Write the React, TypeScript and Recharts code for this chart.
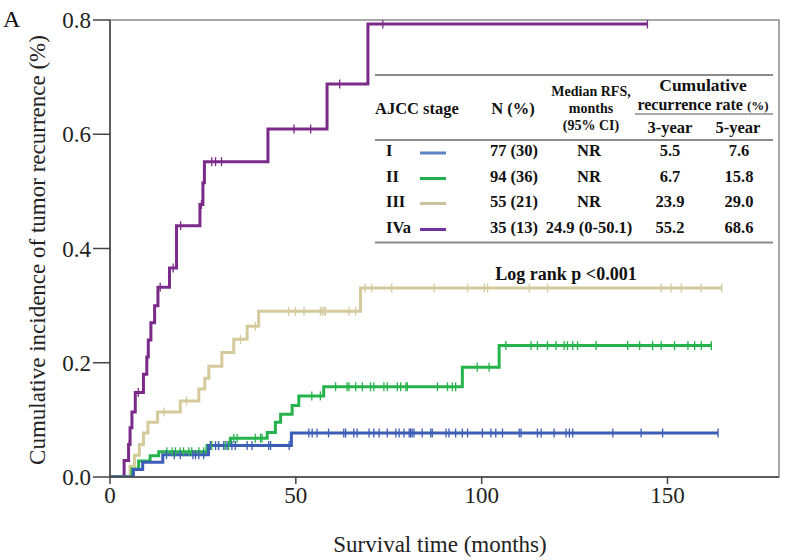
import React from 'react';
import { ComposedChart, Line, XAxis, YAxis, ReferenceArea } from 'recharts';

const xTicks = [0, 50, 100, 150];
const yTicks = [0, 0.2, 0.4, 0.6, 0.8];

const stageNames = ['I', 'II', 'III', 'IVa'];
const lineColors = ['#3c5db6', '#27b34c', '#d4ca9c', '#7c2a8a'];
const legendColors = ['#5a84c2', '#22b04f', '#cbc1a0', '#7030a0'];
const nValues = ['77 (30)', '94 (36)', '55 (21)', '35 (13)'];
const medianValues = ['NR', 'NR', 'NR', '24.9 (0-50.1)'];
const rate3Year = ['5.5', '6.7', '23.9', '55.2'];
const rate5Year = ['7.6', '15.8', '29.0', '68.6'];

// Stage I
const stage1StepTimes = [6.3, 8.8, 14.2, 26.5, 48.8];
const stage1StepValues = [0.013, 0.026, 0.039, 0.055, 0.077];
const stage1Censored = [15.2, 17.3, 18.9, 22.3, 23.0, 23.9, 25.2, 27.0, 28.4, 29.2, 30.6, 31.5, 32.8, 33.7, 36.9, 38.2, 42.7, 43.2, 48.2, 53.5, 54.4, 55.7, 58.8, 62.9, 63.4, 65.6, 66.5, 69.7, 71.0, 72.4, 74.6, 76.9, 77.8, 79.1, 80.5, 80.9, 81.3, 81.8, 84.0, 86.3, 86.7, 90.4, 91.2, 93.0, 94.8, 96.2, 100.2, 102.5, 103.8, 105.6, 110.1, 110.6, 115.0, 116.0, 119.5, 122.7, 123.6, 124.5, 135.3, 142.9, 148.7, 163.6];

// Stage II
const stage2StepTimes = [5.9, 7.7, 10.8, 13.1, 26.1, 32.4, 42.3, 44.5, 45.9, 49.0, 50.8, 57.5, 94.8, 104.7];
const stage2StepValues = [0.014, 0.028, 0.037, 0.044, 0.055, 0.068, 0.078, 0.096, 0.11, 0.125, 0.142, 0.158, 0.192, 0.23];
const stage2Censored = [15.3, 16.7, 17.6, 18.9, 19.8, 21.2, 22.0, 23.9, 25.2, 27.4, 29.2, 31.0, 31.9, 33.3, 34.2, 39.1, 40.5, 40.9, 54.3, 56.6, 60.7, 63.8, 64.3, 66.1, 67.9, 70.1, 71.0, 73.7, 74.6, 77.3, 78.2, 79.6, 80.0, 88.1, 90.8, 92.1, 93.0, 98.8, 102.0, 106.5, 113.3, 115.0, 117.7, 120.0, 122.2, 123.1, 124.5, 125.8, 130.8, 139.3, 142.5, 146.0, 148.3, 151.9, 155.5, 157.3, 159.1, 161.8];

// Stage III
const stage3StepTimes = [5.4, 6.6, 7.9, 9.0, 10.2, 12.8, 18.9, 23.9, 25.5, 26.6, 30.1, 33.3, 36.9, 40.0, 67.4];
const stage3StepValues = [0.019, 0.038, 0.057, 0.077, 0.096, 0.114, 0.133, 0.154, 0.173, 0.194, 0.218, 0.241, 0.264, 0.29, 0.331];
const stage3Censored = [14.5, 20.6, 35.1, 39.1, 48.1, 49.9, 52.2, 56.6, 57.1, 57.6, 58.0, 64.3, 66.1, 68.6, 70.4, 75.8, 87.2, 96.2, 100.7, 101.6, 112.8, 117.7, 148.3, 151.0, 153.7, 159.0, 164.6];

// Stage IVa
const stage4StepTimes = [3.8, 5.0, 5.4, 5.9, 6.8, 9.0, 9.9, 10.3, 11.0, 12.0, 12.9, 16.0, 17.9, 24.2, 25.0, 25.4, 42.5, 58.4, 69.4];
const stage4StepValues = [0.029, 0.057, 0.086, 0.114, 0.148, 0.18, 0.21, 0.24, 0.27, 0.30, 0.332, 0.366, 0.44, 0.477, 0.515, 0.552, 0.609, 0.688, 0.793];
const stage4Censored = [5.2, 7.6, 10.1, 13.5, 17.0, 19.0, 24.6, 27.4, 28.4, 30.0, 49.5, 54.0, 61.8, 73.4, 144.6];

type Pt = { t: number; v: number; c: boolean };

function buildCurve(stepTimes: number[], stepValues: number[], censored: number[]): Pt[] {
  const pts: Pt[] = [{ t: 0, v: 0, c: false }];
  stepTimes.forEach((t, i) => pts.push({ t, v: stepValues[i], c: false }));
  censored.forEach((t) => {
    let v = 0;
    stepTimes.forEach((st, i) => {
      if (st <= t) v = stepValues[i];
    });
    pts.push({ t, v, c: true });
  });
  pts.sort((a, b) => a.t - b.t);
  return pts;
}

const curves = [
  buildCurve(stage1StepTimes, stage1StepValues, stage1Censored),
  buildCurve(stage2StepTimes, stage2StepValues, stage2Censored),
  buildCurve(stage3StepTimes, stage3StepValues, stage3Censored),
  buildCurve(stage4StepTimes, stage4StepValues, stage4Censored),
];

const makeCensorDot = (color: string) => (props: any) => {
  const { cx, cy, payload, index } = props;
  if (!payload || !payload.c || cx == null || cy == null) return <g key={`d${index}`} />;
  return (
    <line key={`d${index}`} x1={cx} x2={cx} y1={cy - 4.5} y2={cy + 4.5} stroke={color} strokeWidth={1.3} />
  );
};

const serif = '"Liberation Serif", "Times New Roman", serif';
const drawOrder = [2, 3, 1, 0];

const rowBaselines = [156, 181.5, 206.5, 232.5];

export default function App() {
  return (
    <div style={{ position: 'relative', width: 788, height: 560, background: '#fff' }}>
      <style>{`body{margin:0}`}</style>
      <ComposedChart width={788} height={560} margin={{ top: 20, right: 9, left: 0, bottom: 0 }}>
        <XAxis
          dataKey="t"
          type="number"
          domain={[0, 180]}
          ticks={xTicks}
          allowDataOverflow
          height={83}
          tickSize={7}
          tickMargin={3}
          stroke="#444"
          strokeWidth={1.5}
          tick={{ fill: '#222', fontSize: 23, fontFamily: serif }}
        />
        <YAxis
          type="number"
          domain={[0, 0.8]}
          ticks={yTicks}
          allowDataOverflow
          width={110}
          tickSize={17}
          tickMargin={2}
          stroke="#444"
          strokeWidth={1.5}
          tickFormatter={(v: number) => v.toFixed(1)}
          tick={{ fill: '#222', fontSize: 23, fontFamily: serif }}
        />
        <ReferenceArea x1={0} x2={180} y1={0} y2={0.8} fill="none" stroke="#8a8a8a" strokeWidth={1.5} ifOverflow="visible" />
        {drawOrder.map((i) => (
          <Line
            key={stageNames[i]}
            data={curves[i]}
            dataKey="v"
            type="stepAfter"
            stroke={lineColors[i]}
            strokeWidth={3}
            dot={makeCensorDot(lineColors[i])}
            activeDot={false}
            isAnimationActive={false}
          />
        ))}
      </ComposedChart>
      <svg
        width={788}
        height={560}
        style={{ position: 'absolute', left: 0, top: 0, pointerEvents: 'none' }}
        fontFamily={serif}
      >
        <text x={3} y={27} fontSize={24} fill="#111">A</text>
        <text x={440} y={552} fontSize={23} fill="#222" textAnchor="middle">Survival time (months)</text>
        <text transform="translate(45,250) rotate(-90)" fontSize={23} fill="#222" textAnchor="middle">
          Cumulative incidence of tumor recurrence (%)
        </text>

        {/* table */}
        <g fontWeight="bold" fill="#111">
          <line x1={375} x2={773} y1={75} y2={75} stroke="#8a8a8a" strokeWidth={2} />
          <line x1={635} x2={773} y1={114} y2={114} stroke="#8a8a8a" strokeWidth={1.5} />
          <line x1={375} x2={773} y1={140} y2={140} stroke="#8a8a8a" strokeWidth={2} />
          <line x1={375} x2={773} y1={242.5} y2={242.5} stroke="#8a8a8a" strokeWidth={2} />

          <text x={375} y={114} fontSize={16.5}>AJCC stage</text>
          <text x={513} y={114} fontSize={16.5} textAnchor="middle">N (%)</text>
          <text x={591} y={96} fontSize={14} textAnchor="middle">Median RFS,</text>
          <text x={591} y={113} fontSize={14} textAnchor="middle">months</text>
          <text x={591} y={130} fontSize={14} textAnchor="middle">(95% CI)</text>
          <text x={703} y={91} fontSize={17.5} textAnchor="middle">Cumulative</text>
          <text x={703} y={110} fontSize={16} textAnchor="middle">
            recurrence rate <tspan fontSize={13}>(%)</tspan>
          </text>
          <text x={670} y={133} fontSize={16.5} textAnchor="middle">3-year</text>
          <text x={738} y={133} fontSize={16.5} textAnchor="middle">5-year</text>

          {stageNames.map((s, i) => (
            <g key={s}>
              <text x={386} y={rowBaselines[i]} fontSize={16.5}>{s}</text>
              <line x1={420} x2={446} y1={rowBaselines[i] - 3} y2={rowBaselines[i] - 3} stroke={legendColors[i]} strokeWidth={3} />
              <text x={514} y={rowBaselines[i]} fontSize={16.5} textAnchor="middle">{nValues[i]}</text>
              <text x={589} y={rowBaselines[i]} fontSize={16.5} textAnchor="middle">{medianValues[i]}</text>
              <text x={670} y={rowBaselines[i]} fontSize={16.5} textAnchor="middle">{rate3Year[i]}</text>
              <text x={739} y={rowBaselines[i]} fontSize={16.5} textAnchor="middle">{rate5Year[i]}</text>
            </g>
          ))}

          <text x={566} y={280} fontSize={18} textAnchor="middle">Log rank  p &lt;0.001</text>
        </g>
      </svg>
    </div>
  );
}
